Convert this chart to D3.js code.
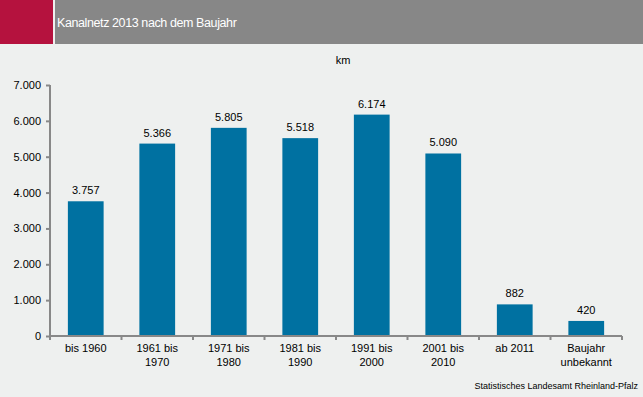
<!DOCTYPE html>
<html>
<head>
<meta charset="utf-8">
<script src="https://cdn.jsdelivr.net/npm/d3@7"></script>
<style>
  body { margin: 0; background: #eef0ef; }
  svg { display: block; font-family: "Liberation Sans", Arial, sans-serif; }
</style>
</head>
<body>
<div id="chart"></div>
<script>
const categories = ["bis 1960", "1961 bis|1970", "1971 bis|1980", "1981 bis|1990", "1991 bis|2000", "2001 bis|2010", "ab 2011", "Baujahr|unbekannt"];
const values = [3757, 5366, 5805, 5518, 6174, 5090, 882, 420];
const yTicks = [0, 1000, 2000, 3000, 4000, 5000, 6000, 7000];

const W = 643, H = 397;
const fmt = d3.formatLocale({ decimal: ",", thousands: ".", grouping: [3], currency: ["", "€"] }).format(",");

const svg = d3.select("#chart").append("svg")
  .attr("width", W).attr("height", H);

svg.append("rect").attr("width", W).attr("height", H).attr("fill", "#eef0ef");

// header band
svg.append("rect").attr("x", 0).attr("y", 0).attr("width", 53).attr("height", 44).attr("fill", "#b5123e");
svg.append("rect").attr("x", 55).attr("y", 0).attr("width", W - 55).attr("height", 44).attr("fill", "#878787");
svg.append("text").attr("x", 57).attr("y", 27)
  .attr("fill", "#fff").attr("font-size", 12.5).attr("letter-spacing", -0.4)
  .text("Kanalnetz 2013 nach dem Baujahr");

svg.append("text").attr("x", 343).attr("y", 64).attr("text-anchor", "middle")
  .attr("font-size", 11).attr("fill", "#000").text("km");

const x = d3.scaleBand().domain(categories).range([50, 622]).paddingInner(0.5).paddingOuter(0.25);
const y = d3.scaleLinear().domain([0, 7000]).range([336, 85]);

// y axis
const yAxis = svg.append("g").attr("transform", "translate(50,0)")
  .call(d3.axisLeft(y).tickValues(yTicks).tickSize(4).tickFormat(fmt));
yAxis.select(".domain").attr("stroke", "#888").attr("stroke-width", 2).attr("d", `M0,${y(0)}V${y(7000)}`);
yAxis.selectAll(".tick line").attr("stroke", "#888").attr("stroke-width", 2);
yAxis.selectAll(".tick text").attr("font-size", 11).attr("fill", "#000")
  .attr("font-family", "Liberation Sans, Arial, sans-serif").attr("x", -9);

// bars
svg.selectAll(".bar").data(values).enter().append("rect")
  .attr("x", (d, i) => x(categories[i]))
  .attr("y", d => y(d))
  .attr("width", x.bandwidth())
  .attr("height", d => y(0) - y(d))
  .attr("fill", "#0071a1");

svg.selectAll(".val").data(values).enter().append("text")
  .attr("x", (d, i) => x(categories[i]) + x.bandwidth() / 2)
  .attr("y", d => y(d) - 7)
  .attr("text-anchor", "middle").attr("font-size", 11).attr("fill", "#000")
  .text(d => fmt(d));

// x axis
const step = x.step();
const xg = svg.append("g");
xg.append("line").attr("x1", 50).attr("x2", 622).attr("y1", y(0)).attr("y2", y(0))
  .attr("stroke", "#888").attr("stroke-width", 2);
d3.range(categories.length + 1).forEach(i => {
  const bx = 50 + i * step;
  xg.append("line").attr("x1", bx).attr("x2", bx).attr("y1", y(0)).attr("y2", y(0) + 4)
    .attr("stroke", "#888").attr("stroke-width", 2);
});
categories.forEach(c => {
  const t = xg.append("text").attr("text-anchor", "middle").attr("font-size", 11).attr("fill", "#000");
  c.split("|").forEach((line, j) => {
    t.append("tspan").attr("x", x(c) + x.bandwidth() / 2).attr("y", 352 + j * 14).text(line);
  });
});

svg.append("text").attr("x", 638).attr("y", 389).attr("text-anchor", "end")
  .attr("font-size", 9).attr("fill", "#000")
  .text("Statistisches Landesamt Rheinland-Pfalz");
</script>
</body>
</html>
